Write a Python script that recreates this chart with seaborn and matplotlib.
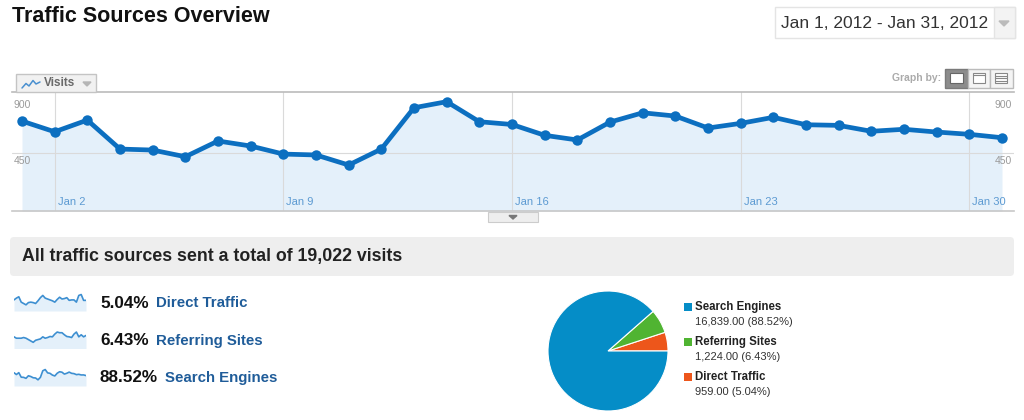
import matplotlib
matplotlib.use("Agg")
import numpy as np
import pandas as pd
import matplotlib.pyplot as plt
import seaborn as sns
from matplotlib.patches import Rectangle, FancyBboxPatch, Polygon

# ---- data ----
days = list(range(1, 32))
visits = [706, 621, 714, 484, 476, 423, 548, 508, 444, 437, 357, 484, 812, 860, 701,
          679, 593, 556, 698, 772, 746, 651, 688, 736, 677, 672, 625, 641, 619, 601, 574]
y_ticks = [450, 900]
x_tick_days = [2, 9, 16, 23, 30]
x_tick_labels = ["Jan 2", "Jan 9", "Jan 16", "Jan 23", "Jan 30"]

direct_daily = [32, 36, 39, 27, 24, 21, 26, 27, 26, 24, 30, 37, 42, 36, 34, 32,
                30, 27, 33, 38, 34, 35, 37, 31, 32, 32, 27, 42, 44, 31, 31]
referring_daily = [42, 38, 38, 38, 40, 38, 34, 30, 26, 32, 34, 36, 42, 38, 40, 43,
                   42, 50, 56, 54, 54, 48, 43, 42, 40, 50, 56, 42, 48, 42, 46]
search_daily = [632, 547, 637, 419, 412, 364, 488, 451, 392, 381, 293, 411, 728, 786, 627,
                604, 521, 479, 609, 680, 658, 568, 608, 663, 605, 590, 542, 557, 527, 528, 497]

sources = ["Direct Traffic", "Referring Sites", "Search Engines"]
source_visits = [959, 1224, 16839]
source_share = [5.04, 6.43, 88.52]
source_colors = ["#ED561B", "#50B432", "#058DC7"]
total_visits = 19022
date_range = "Jan 1, 2012 - Jan 31, 2012"

sns.set_style("white")
plt.rcParams["font.family"] = ["Liberation Sans", "DejaVu Sans"]

W, H = 1024, 420
fig = plt.figure(figsize=(W / 100, H / 100), dpi=100)
fig.patch.set_facecolor("white")


def rect(x0, y0, x1, y1):
    return [x0 / W, 1 - y1 / H, (x1 - x0) / W, (y1 - y0) / H]


line_col = "#0C6FC0"
fill_col = "#E4F0FA"

# ---- main visits chart ----
ax = fig.add_axes(rect(12, 92, 1014, 211))
df = pd.DataFrame({"day": days, "visits": visits})
ax.fill_between(days, visits, -8, color=fill_col, lw=0, zorder=1)
ax.axhline(450, color="#DADADA", lw=0.8, zorder=2)
for d in x_tick_days:
    ax.axvline(d, color="#DADADA", lw=0.8, zorder=2)
sns.lineplot(data=df, x="day", y="visits", ax=ax, color=line_col, lw=3.4,
             marker="o", markersize=7.5, markeredgewidth=0, zorder=3)
ax.set_xlim(0.694, 31.367)
ax.set_ylim(-8, 937)
ax.set_xticks([])
ax.set_yticks([])
ax.set_xlabel("")
ax.set_ylabel("")
for s in ["left", "right"]:
    ax.spines[s].set_visible(False)
ax.spines["top"].set_color("#BBBBBB")
ax.spines["bottom"].set_color("#C8C8C8")
ax.spines["top"].set_linewidth(1.2)
ax.spines["bottom"].set_linewidth(1.2)
ax.set_facecolor("white")
for d, lab in zip(x_tick_days, x_tick_labels):
    ax.annotate(lab, xy=(d, 0), xycoords=("data", "axes fraction"),
                xytext=(3, 9), textcoords="offset pixels",
                fontsize=8, color="#5C9AD2", va="center", ha="left", zorder=4)
for v in y_ticks:
    ax.annotate(str(v), xy=(0, v), xycoords=("axes fraction", "data"),
                xytext=(2, -8), textcoords="offset pixels",
                fontsize=7.5, color="#9A9A9A", va="center", ha="left")
    ax.annotate(str(v), xy=(1, v), xycoords=("axes fraction", "data"),
                xytext=(-2, -8), textcoords="offset pixels",
                fontsize=7.5, color="#9A9A9A", va="center", ha="right")

# ---- decorations in pixel coordinates ----
ov = fig.add_axes([0, 0, 1, 1], facecolor="none")
ov.set_xlim(0, W)
ov.set_ylim(H, 0)
ov.axis("off")
ov.set_zorder(5)

ov.text(12, 16, "Traffic Sources Overview", fontsize=15.5, fontweight="bold",
        va="center", ha="left", color="#111111")

# date picker
ov.add_patch(Rectangle((775, 7), 240, 31, facecolor="white", edgecolor="#E4E4E4", lw=1))
ov.add_patch(Rectangle((994, 7), 21, 31, facecolor="#F3F3F3", edgecolor="#E4E4E4", lw=1))
ov.add_patch(Polygon([(999, 21), (1009, 21), (1004, 26)], closed=True, color="#BBBBBB"))
ov.text(781, 23, date_range, fontsize=12.5, color="#333333", va="center", ha="left")

# visits tab
ov.add_patch(Rectangle((16, 74), 80, 18, facecolor="#F1F1F1", edgecolor="#C4C4C4", lw=1))
ov.plot([22, 26, 29, 33, 36, 40], [88, 83.5, 86, 80.5, 84, 82], color="#4A90D0", lw=1.1)
ov.text(44, 83.5, "Visits", fontsize=8.5, fontweight="bold", color="#6A6A6A",
        va="center", ha="left")
ov.add_patch(Polygon([(83, 82), (91, 82), (87, 86)], closed=True, color="#B5B5B5"))

# graph-by buttons
ov.text(941, 78, "Graph by:", fontsize=7.5, fontweight="bold", color="#ABABAB",
        va="center", ha="right")
ov.add_patch(Rectangle((945, 69), 23, 19, facecolor="#8C8C8C", edgecolor="#7A7A7A", lw=1))
ov.add_patch(Rectangle((950, 73), 13, 10, facecolor="white", edgecolor="#666666", lw=0.8))
ov.add_patch(Rectangle((968, 69), 22, 19, facecolor="#F4F4F4", edgecolor="#BBBBBB", lw=1))
ov.add_patch(Rectangle((973, 73), 12, 10, facecolor="white", edgecolor="#888888", lw=0.8))
ov.plot([973, 985], [75, 75], color="#888888", lw=0.8)
ov.add_patch(Rectangle((990, 69), 23, 19, facecolor="#F4F4F4", edgecolor="#BBBBBB", lw=1))
ov.add_patch(Rectangle((995, 73), 12, 10, facecolor="white", edgecolor="#888888", lw=0.8))
for yy in [75.5, 78, 80.5]:
    ov.plot([995, 1007], [yy, yy], color="#888888", lw=0.8)

# collapse handle
ov.add_patch(Rectangle((488, 212), 50, 10, facecolor="#EEEEEE", edgecolor="#CCCCCC", lw=0.8))
ov.add_patch(Polygon([(509, 215.5), (517, 215.5), (513, 219)], closed=True, color="#777777"))

# summary band
ov.add_patch(FancyBboxPatch((10, 237), 1004, 39, boxstyle="round,pad=0,rounding_size=4",
                            facecolor="#EEEEEE", edgecolor="none"))
ov.text(22, 256.5, f"All traffic sources sent a total of {total_visits:,} visits",
        fontsize=12.8, fontweight="bold", color="#222222", va="center", ha="left")

# source rows with sparklines
spark_series = [direct_daily, referring_daily, search_daily]
for i, (name, share, series) in enumerate(zip(sources, source_share, spark_series)):
    yc = 303 + 37.5 * i
    sax = fig.add_axes(rect(14, yc - 10, 86, yc + 8))
    sdf = pd.DataFrame({"day": days, "v": series})
    lo, hi = min(series), max(series)
    rng = hi - lo
    base = lo - 0.6 * rng
    sax.fill_between(days, series, base, color=fill_col, lw=0)
    sns.lineplot(data=sdf, x="day", y="v", ax=sax, color="#3D8FD1", lw=1.2)
    sax.set_ylim(base, hi + 0.15 * rng)
    sax.set_xlim(1, 31)
    sax.axis("off")
    t = ov.text(100, yc, f"{share:.2f}%", fontsize=12.3, fontweight="bold",
                color="#111111", va="center", ha="left")
    ov.annotate(name, xy=(1, 0.5), xycoords=t, xytext=(7, 0), textcoords="offset pixels",
                fontsize=10.8, fontweight="bold", color="#1F5C99", va="center", ha="left")

# pie
pax = fig.add_axes(rect(548, 291, 668, 411))
pax.pie(source_visits, colors=source_colors, startangle=0, counterclock=True,
        wedgeprops=dict(edgecolor="white", linewidth=0.8))
pax.set_xlim(-1.0, 1.0)
pax.set_ylim(-1.0, 1.0)

# pie legend
for j, idx in enumerate([2, 1, 0]):
    yl = 307 + 35 * j
    ov.add_patch(Rectangle((684, yl - 3.8), 7.5, 7.5, facecolor=source_colors[idx],
                           edgecolor="none"))
    ov.text(695, yl, sources[idx], fontsize=8.3, fontweight="bold", color="#222222",
            va="center", ha="left")
    ov.text(695, yl + 15, f"{source_visits[idx]:,.2f} ({source_share[idx]:.2f}%)",
            fontsize=8, color="#333333", va="center", ha="left")

fig.savefig("out.png", dpi=100, facecolor="white")
